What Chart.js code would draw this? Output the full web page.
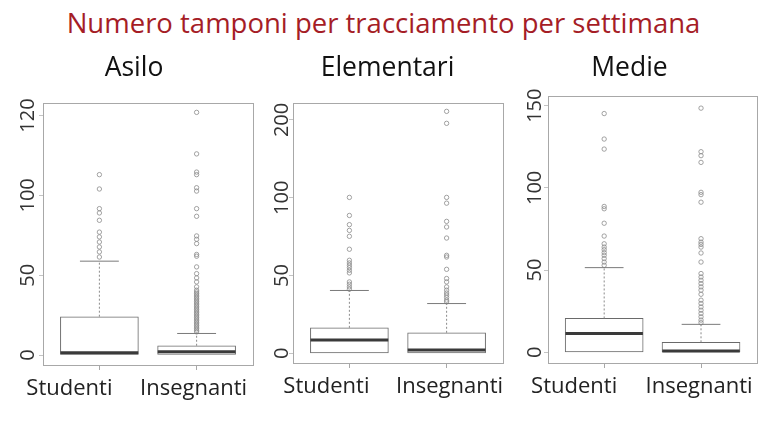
<!DOCTYPE html>
<html>
<head>
<meta charset="utf-8">
<script src="https://cdn.jsdelivr.net/npm/chart.js@4"></script>
<style>
  body { margin:0; background:#fff; width:767px; height:432px; position:relative; overflow:hidden; }
  #title { position:absolute; left:0; top:9px; width:767px; text-align:center; font:27.5px/27px "Open Sans", sans-serif; color:#a51d26; white-space:nowrap; }
  canvas { position:absolute; }
</style>
</head>
<body>
<div id="title">Numero tamponi per tracciamento per settimana</div>
<canvas id="c0"></canvas>
<canvas id="c1"></canvas>
<canvas id="c2"></canvas>
<script>
// groups and panels
const groups = ['Studenti', 'Insegnanti'];
const panelTitles = ['Asilo', 'Elementari', 'Medie'];
const yTickValues = [0, 50, 100, 150];

// Asilo
const asiloTickLabels = ['0', '50', '100', '120'];
const asiloQ1 = [0, 0];
const asiloMedian = [1.5, 2];
const asiloQ3 = [24, 5.8];
const asiloUpper = [58.8, 13.5];
const asiloOutStudenti = [113, 104, 91.7, 89, 84.4, 77, 74, 70.8, 67.7, 64.6, 61.4];
const asiloOutInsegnanti = [152, 126, 114.6, 113, 104.8, 102.7, 91.7, 86.9, 74.6, 72.5, 69.8, 63, 61.9, 55.2, 51, 48.3, 45.8, 42.7, 40.6,
  39.5, 38.5, 37.5, 36.5, 35.5, 34.5, 33.5, 32.5, 31.5, 30.5, 29.5, 28.5, 27.5, 26.5, 25.5, 24.5, 23.5, 22.5, 21.5, 20.5, 19.5, 18.5, 17.5, 16.5, 15.5, 14.5];
const asiloRange = [-6.25, 158];

// Elementari
const elementariTickLabels = ['0', '50', '100', '200'];
const elementariQ1 = [0, 0];
const elementariMedian = [8.5, 2.1];
const elementariQ3 = [16.4, 13.2];
const elementariUpper = [40.4, 32];
const elementariOutStudenti = [100.2, 88.6, 82.7, 79, 75.2, 66.9, 59.8, 58.1, 56.6, 55.1, 53.4, 51.7, 45.9, 44.4, 42.7, 41.2];
const elementariOutInsegnanti = [155.5, 147.8, 100.2, 96.5, 84.8, 81.2, 74.1, 63, 61.9, 54, 48.1, 45.9, 42.7, 40.6, 38.8, 37.4, 35.9, 34.2, 33.1];
const elementariRange = [-6.2, 161];

// Medie
const medieTickLabels = ['0', '50', '100', '150'];
const medieQ1 = [0, 0];
const medieMedian = [11.5, 0.8];
const medieQ3 = [20.6, 6.1];
const medieUpper = [51.5, 17];
const medieOutStudenti = [145.2, 129.7, 123.6, 88.7, 87.3, 78.5, 70.7, 66, 64, 62.4, 60.6, 59, 57, 54.9, 52.9];
const medieOutInsegnanti = [148.5, 122, 119.6, 115.5, 97.3, 95.9, 91.3, 69.1, 67, 65.6, 64, 60.4, 54.9, 47.9, 45.8, 43.8, 41.8, 39.8, 37.8, 35.3,
  31.7, 29.7, 27.6, 25.6, 23.6, 21.6, 19.6, 18];
const medieRange = [-6.5, 156];

const panels = [
  { title: panelTitles[0], tickLabels: asiloTickLabels, q1: asiloQ1, med: asiloMedian, q3: asiloQ3, upper: asiloUpper, out: [asiloOutStudenti, asiloOutInsegnanti], range: asiloRange,
    left: 15, width: 243, yW: 28, padR: 5, titleB: 18, xH: 50, labelGap: 15, xShift: [-30, -3] },
  { title: panelTitles[1], tickLabels: elementariTickLabels, q1: elementariQ1, med: elementariMedian, q3: elementariQ3, upper: elementariUpper, out: [elementariOutStudenti, elementariOutInsegnanti], range: elementariRange,
    left: 272, width: 236, yW: 21, padR: 5, titleB: 18, xH: 52, labelGap: 11, xShift: [-23, 3] },
  { title: panelTitles[2], tickLabels: medieTickLabels, q1: medieQ1, med: medieMedian, q3: medieQ3, upper: medieUpper, out: [medieOutStudenti, medieOutInsegnanti], range: medieRange,
    left: 499, width: 263, yW: 49, padR: 2, titleB: 11, xH: 52, labelGap: 13, xShift: [-30, -2] }
];

const FONT = '"Open Sans", sans-serif';
const BOX_HALF = 0.4, CAP_HALF = 0.2;

// frame round the plot + rotated y labels + group labels
const framePlugin = {
  id: 'frame',
  afterDatasetsDraw(chart, args, opts){
    const {ctx, chartArea:a} = chart;
    ctx.save();
    ctx.strokeStyle = '#a8a8a8';
    ctx.lineWidth = 1;
    ctx.strokeRect(Math.round(a.left)+0.5, Math.round(a.top)+0.5, Math.round(a.right-a.left), Math.round(a.bottom-a.top));
    const ys = chart.scales.y, xs = chart.scales.x;
    ctx.fillStyle = '#333';
    ctx.font = '20px ' + FONT;
    ctx.textAlign = 'center';
    ctx.textBaseline = 'middle';
    yTickValues.forEach((v,i)=>{
      ctx.save();
      ctx.translate(a.left - opts.gap, ys.getPixelForValue(v));
      ctx.rotate(-Math.PI/2);
      ctx.fillText(opts.labels[i], 0, 0);
      ctx.restore();
    });
    ctx.fillStyle = '#222';
    ctx.font = '22px ' + FONT;
    ctx.textBaseline = 'alphabetic';
    groups.forEach((g,k)=>{
      ctx.fillText(g, xs.getPixelForValue(k+1) + opts.shift[k], a.bottom + 30);
    });
    ctx.restore();
  }
};

function seg(x0, x1, y0, y1, extra){
  return Object.assign({ type:'line', data:[{x:x0,y:y0},{x:x1,y:y1}], pointRadius:0, borderWidth:1, borderColor:'#6a6a6a', order:1 }, extra||{});
}

function makePanel(p, i){
  const cv = document.getElementById('c'+i);
  cv.width = p.width; cv.height = 370;
  cv.style.left = p.left + 'px'; cv.style.top = '45px';

  const datasets = [{
    type:'bar',
    data: groups.map((g,k)=>({x:k+1, y:[p.q1[k], p.q3[k]]})),
    backgroundColor:'#fff', borderColor:'#6a6a6a', borderWidth:1, borderSkipped:false,
    barThickness:78, order:5
  }];
  groups.forEach((g,k)=>{
    const x = k+1;
    datasets.push(seg(x-BOX_HALF, x+BOX_HALF, p.med[k], p.med[k], {borderWidth:3, borderColor:'#3a3a3a'}));
    datasets.push(seg(x, x, p.q3[k], p.upper[k], {borderDash:[2,2], borderColor:'#8a8a8a'}));
    datasets.push(seg(x-CAP_HALF, x+CAP_HALF, p.upper[k], p.upper[k], {borderColor:'#7a7a7a'}));
    datasets.push({
      type:'scatter', data: p.out[k].map(v=>({x, y:v})),
      pointRadius:2.2, pointBorderWidth:0.8, pointBorderColor:'#8c8c8c', pointBackgroundColor:'rgba(255,255,255,0)', order:2
    });
  });

  new Chart(cv.getContext('2d'), {
    type:'bar',
    data:{ datasets },
    options:{
      responsive:false, animation:false,
      layout:{ padding:{ left:0, right:p.padR, top:0, bottom:0 } },
      plugins:{
        legend:{ display:false }, tooltip:{ enabled:false },
        title:{ display:true, text:p.title, color:'#111', font:{ family:FONT, size:26.5, weight:'normal' }, padding:{ top:8, bottom:p.titleB } },
        frame:{ labels:p.tickLabels, gap:p.labelGap, shift:p.xShift }
      },
      scales:{
        x:{
          type:'linear', min:0.42, max:2.58, offset:false,
          afterBuildTicks: s => { s.ticks = groups.map((g,k)=>({value:k+1})); },
          afterFit: s => { s.height = p.xH; },
          ticks:{ display:false },
          grid:{ drawOnChartArea:false, offset:false, tickLength:5, color:'#a8a8a8' },
          border:{ display:false }
        },
        y:{
          min:p.range[0], max:p.range[1],
          afterBuildTicks: s => { s.ticks = yTickValues.map(v=>({value:v})); },
          afterFit: s => { s.width = p.yW; },
          ticks:{ display:false },
          grid:{ drawOnChartArea:false, offset:false, tickLength:4, color:'#c4c4c4' },
          border:{ display:false }
        }
      }
    },
    plugins:[framePlugin]
  });
}

panels.forEach(makePanel);
</script>
</body>
</html>
